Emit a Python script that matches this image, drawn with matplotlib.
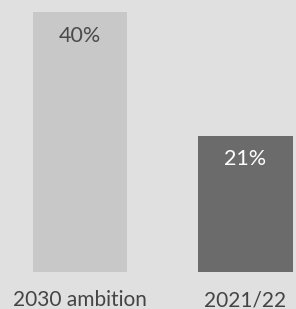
import matplotlib
matplotlib.use("Agg")
import matplotlib.pyplot as plt

categories = ["2030 ambition", "2021/22"]
values = [40, 21]
labels = ["40%", "21%"]

bar_colors = ["#c8c8c8", "#6b6b6b"]
text_colors = ["#4a4a4a", "#ffffff"]
bg = "#e0e0e0"

plt.rcParams['font.family'] = ['Lato', 'DejaVu Sans']

fig = plt.figure(figsize=(2.96, 3.09), dpi=100, facecolor=bg)
ax = fig.add_axes([0, 0.1197, 1, 0.8414])
ax.set_facecolor(bg)

x = range(len(categories))
bars = ax.bar(x, values, width=0.568, color=bar_colors)

for bar, lab, col in zip(bars, labels, text_colors):
    ax.annotate(lab, (bar.get_x() + bar.get_width() / 2, bar.get_height()),
                xytext=(0, -17), textcoords='offset points',
                ha='center', va='center', fontsize=15.5, color=col)

ax.set_xlim(-0.483, 1.305)
ax.set_ylim(0, 40)
ax.set_xticks(list(x))
ax.set_xticklabels(categories, fontsize=15, color="#444444")
ax.tick_params(axis='x', length=0, pad=13)
ax.set_yticks([])
for s in ax.spines.values():
    s.set_visible(False)

fig.savefig("out.png", dpi=100, facecolor=bg)
